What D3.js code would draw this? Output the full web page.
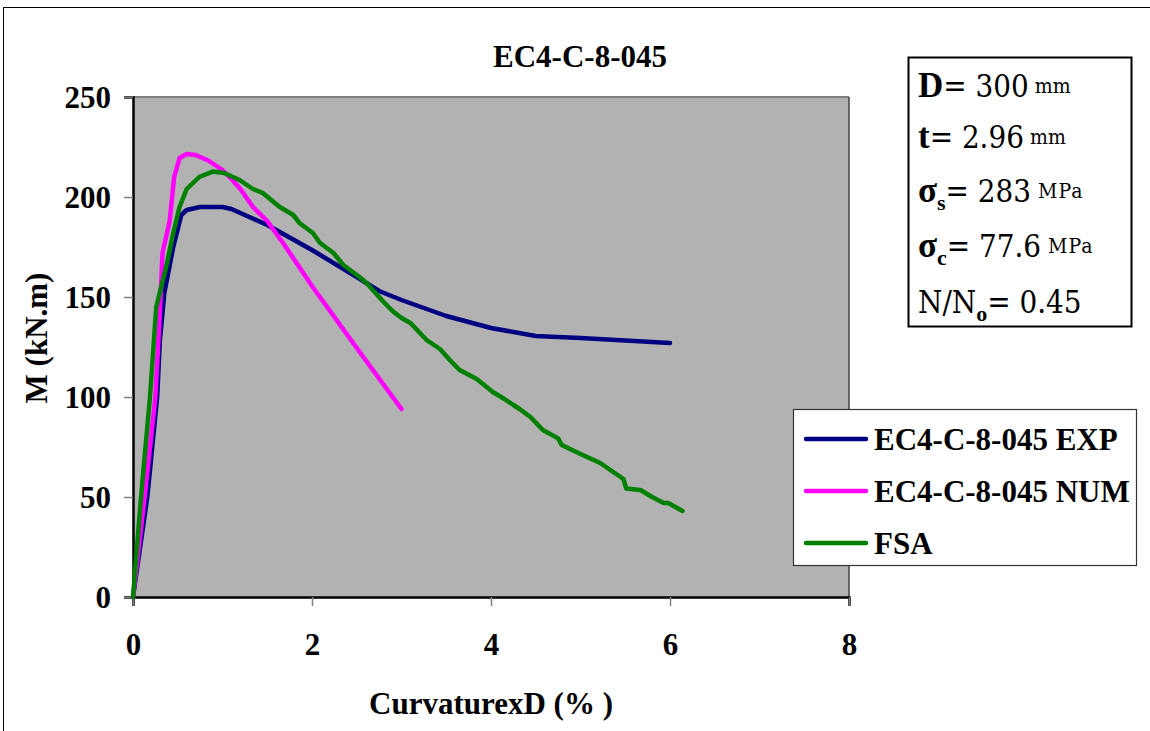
<!DOCTYPE html>
<html>
<head>
<meta charset="utf-8">
<script src="https://cdn.jsdelivr.net/npm/d3@7"></script>
<style>
  body { margin: 0; background: #fff; }
  svg { display: block; font-family: "Liberation Serif", "Times New Roman", serif; }
  svg text { font-family: "Liberation Serif", "Times New Roman", serif; }
  .param text { font-family: "DejaVu Serif Condensed", "DejaVu Serif", serif; }
</style>
</head>
<body>
<div id="chart"></div>
<script>
// curvature x D (%) vs moment M (kN.m)
const expCurv = [0, 0.16, 0.27, 0.30, 0.35, 0.45, 0.54, 0.60, 0.75, 1.0, 1.1, 1.25, 1.5, 2.0, 2.5, 2.75, 3.0, 3.5, 4.0, 4.5, 5.0, 6.0];
const expM    = [0, 50, 100, 128, 152, 175, 191, 193.5, 195, 195, 194, 191, 186, 173.5, 160, 153, 148.5, 140.5, 134.5, 130.5, 129.5, 127];

const numCurv = [0, 0.13, 0.25, 0.30, 0.33, 0.41, 0.46, 0.52, 0.60, 0.70, 0.85, 1.0, 1.1, 1.2, 1.34, 1.5, 1.7, 2.0, 2.5, 3.0];
const numM    = [0, 50, 100, 142, 172, 188, 210, 219.5, 221.5, 221, 218, 213.5, 209, 204, 195, 188, 175.5, 155.5, 124.5, 94];

const fsaCurv = [0, 0.09, 0.19, 0.26, 0.37, 0.45, 0.52, 0.60, 0.74, 0.89, 1.02, 1.19, 1.34, 1.45, 1.64, 1.79, 1.86, 2.01, 2.09, 2.24, 2.35, 2.53, 2.61, 2.65, 2.79, 2.9, 3.0, 3.1, 3.28, 3.43, 3.55, 3.65, 3.84, 4.02, 4.15, 4.25, 4.32, 4.44, 4.58, 4.75, 4.79, 5.0, 5.22, 5.35, 5.48, 5.51, 5.67, 5.8, 5.93, 5.98, 6.14];
const fsaM    = [0, 50, 100, 145, 165, 182, 195, 204, 210, 212.7, 212, 208.5, 204, 202, 195, 191, 187, 182, 177, 172, 166, 160, 157, 155, 148, 143, 139.5, 137, 128.5, 124, 118, 113.5, 109, 102.5, 99, 96, 94, 90, 83.5, 79.3, 76, 71.5, 67, 63, 59, 54.3, 53.5, 50, 47, 47, 43];

const seriesNames  = ["EC4-C-8-045 EXP", "EC4-C-8-045 NUM", "FSA"];
const seriesColors = ["#000080", "#ff00ff", "#008000"];
const xTicks = [0, 2, 4, 6, 8];
const yTicks = [0, 50, 100, 150, 200, 250];

const width = 1150, height = 731;
const margin = { left: 133, top: 97, right: 849, bottom: 597 };

const svg = d3.select("#chart").append("svg")
    .attr("width", width)
    .attr("height", height);

// outer frame
svg.append("rect")
    .attr("x", 3.5).attr("y", 7.5)
    .attr("width", 1160).attr("height", 760)
    .attr("fill", "#fff")
    .attr("stroke", "#000")
    .attr("stroke-width", 1);

const x = d3.scaleLinear().domain([0, 8]).range([margin.left, margin.right]);
const y = d3.scaleLinear().domain([0, 250]).range([margin.bottom, margin.top]);

// plot area
svg.append("rect")
    .attr("x", x(0)).attr("y", y(250))
    .attr("width", x(8) - x(0)).attr("height", y(0) - y(250))
    .attr("fill", "#b2b2b2");
svg.append("line")
    .attr("x1", x(0)).attr("x2", x(8))
    .attr("y1", y(250)).attr("y2", y(250))
    .attr("stroke", "#808080").attr("stroke-width", 2);
svg.append("line")
    .attr("x1", x(8)).attr("x2", x(8))
    .attr("y1", y(250)).attr("y2", y(0))
    .attr("stroke", "#404040").attr("stroke-width", 1.5);

// axes
const xAxis = d3.axisBottom(x).tickValues(xTicks).tickSize(9).tickFormat(d3.format("d"));
const yAxis = d3.axisLeft(y).tickValues(yTicks).tickSize(9).tickFormat(d3.format("d"));

const gx = svg.append("g").attr("transform", `translate(0,${y(0)})`).call(xAxis);
const gy = svg.append("g").attr("transform", `translate(${x(0)},0)`).call(yAxis);

[gx, gy].forEach(g => {
    g.select(".domain").attr("stroke", "#000").attr("stroke-width", 2.5);
    g.selectAll(".tick line").attr("stroke", "#808080").attr("stroke-width", 1.5);
    g.selectAll(".tick text")
        .attr("fill", "#000")
        .style("font-family", "'Liberation Serif', serif")
        .style("font-weight", "bold")
        .style("font-size", "31px");
});
gx.selectAll(".tick text").attr("dy", null).attr("y", 58);
gy.selectAll(".tick text").attr("x", -22).attr("dy", "0.34em");

// lines
const line = d3.line().x(d => x(d[0])).y(d => y(d[1]));
const seriesData = [
    d3.zip(expCurv, expM),
    d3.zip(numCurv, numM),
    d3.zip(fsaCurv, fsaM)
];

seriesData.forEach((pts, i) => {
    svg.append("path")
        .datum(pts)
        .attr("d", line)
        .attr("fill", "none")
        .attr("stroke", seriesColors[i])
        .attr("stroke-width", 4.5)
        .attr("stroke-linejoin", "round")
        .attr("stroke-linecap", "round");
});

// title and axis labels
svg.append("text")
    .attr("x", 580).attr("y", 67)
    .attr("text-anchor", "middle")
    .style("font-weight", "bold").style("font-size", "31px")
    .text("EC4-C-8-045");

svg.append("text")
    .attr("x", 491).attr("y", 714)
    .attr("text-anchor", "middle")
    .style("font-weight", "bold").style("font-size", "31px")
    .text("CurvaturexD (% )");

svg.append("text")
    .attr("transform", "translate(47,338) rotate(-90)")
    .attr("text-anchor", "middle")
    .style("font-weight", "bold").style("font-size", "31px")
    .text("M (kN.m)");

// legend
const legend = svg.append("g");
legend.append("rect")
    .attr("x", 793.5).attr("y", 409.5)
    .attr("width", 343).attr("height", 156)
    .attr("fill", "#fff")
    .attr("stroke", "#333").attr("stroke-width", 1.2);

seriesNames.forEach((name, i) => {
    const ly = 439 + i * 52;
    legend.append("line")
        .attr("x1", 806).attr("x2", 866)
        .attr("y1", ly).attr("y2", ly)
        .attr("stroke", seriesColors[i])
        .attr("stroke-width", 4.5)
        .attr("stroke-linecap", "round");
    legend.append("text")
        .attr("x", 874).attr("y", ly + 11)
        .style("font-weight", "bold").style("font-size", "31px")
        .text(name);
});

// parameter box
const box = svg.append("g").attr("class", "param");
box.append("rect")
    .attr("x", 908.5).attr("y", 57.5)
    .attr("width", 223).attr("height", 269)
    .attr("fill", "#fff")
    .attr("stroke", "#000").attr("stroke-width", 2);

const params = [
    { b: "D", sub: "", val: "= 300", unit: " mm", y: 97 },
    { b: "t", sub: "", val: "= 2.96", unit: " mm", y: 148 },
    { b: "σ", sub: "s", val: "= 283", unit: " MPa", y: 202 },
    { b: "σ", sub: "c", val: "= 77.6", unit: " MPa", y: 257 },
    { b: "", pre: "N/N", sub: "o", val: "= 0.45", unit: "", y: 313 }
];

params.forEach(p => {
    const t = box.append("text")
        .attr("x", 918).attr("y", p.y)
        .style("font-size", "31px");
    if (p.pre) t.append("tspan").text(p.pre);
    if (p.b) t.append("tspan").style("font-weight", "bold")
        .style("font-family", "'Liberation Serif', serif")
        .style("font-size", "35px").text(p.b);
    if (p.sub) t.append("tspan")
        .style("font-weight", "bold").style("font-size", "22px")
        .style("font-family", "'Liberation Serif', serif")
        .attr("dy", 8).text(p.sub);
    t.append("tspan").attr("dy", p.sub ? -8 : 0).text(p.val);
    if (p.unit) t.append("tspan")
        .style("font-size", "21px")
        .attr("dy", -4)
        .style("letter-spacing", p.unit.includes("MPa") ? "1px" : "0px")
        .text(p.unit);
});
</script>
</body>
</html>
